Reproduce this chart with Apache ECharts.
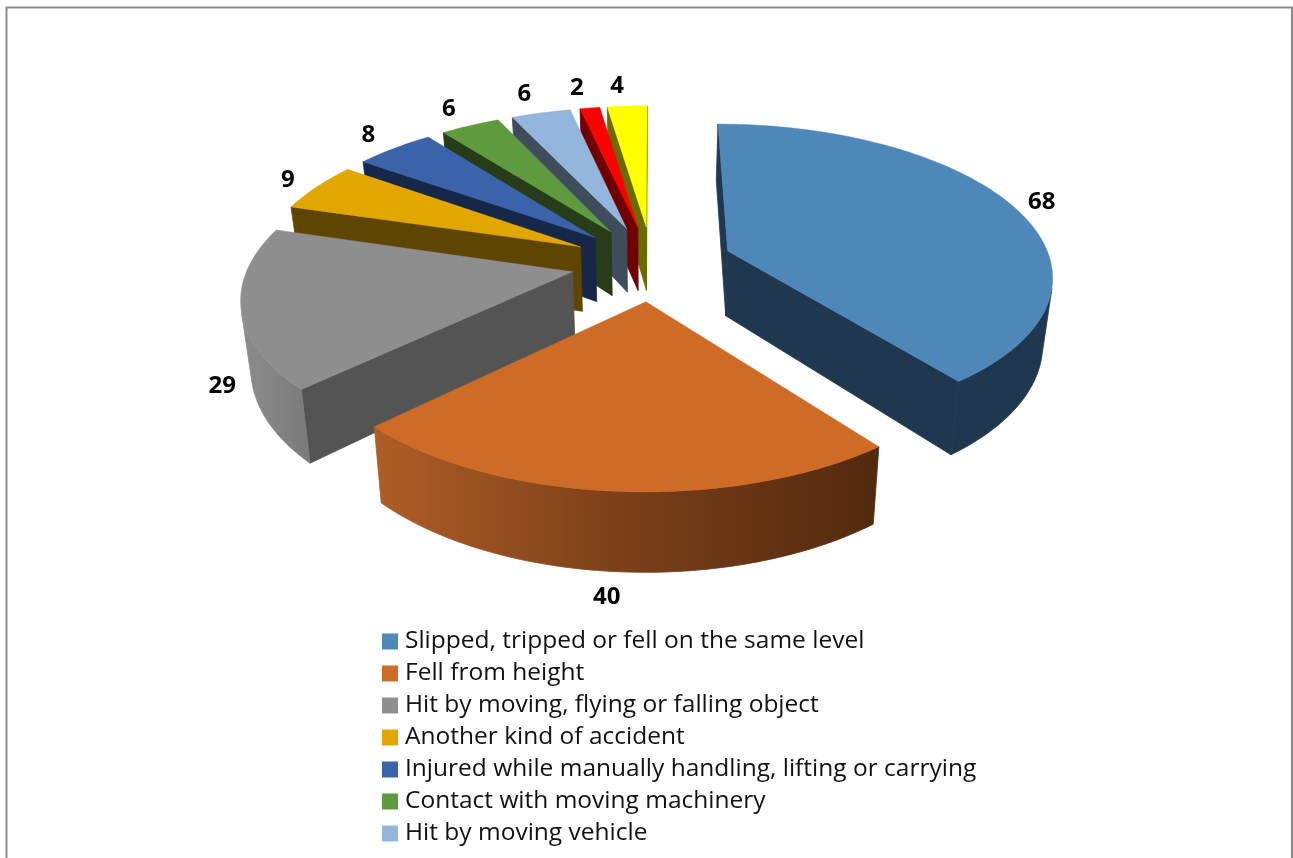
<!DOCTYPE html>
<html>
<head>
<meta charset="utf-8">
<style>html,body{margin:0;padding:0;background:#fff;overflow:hidden}#c{width:1293px;height:858px}</style>
<script src="https://cdn.jsdelivr.net/npm/echarts@6/dist/echarts.min.js"></script>
</head>
<body>
<div id="c"></div>
<script>
// Data
var categories = [
  'Slipped, tripped or fell on the same level',
  'Fell from height',
  'Hit by moving, flying or falling object',
  'Another kind of accident',
  'Injured while manually handling, lifting or carrying',
  'Contact with moving machinery',
  'Hit by moving vehicle',
  'Other (red)',
  'Other (yellow)'
];
var values = [68, 40, 29, 9, 8, 6, 6, 2, 4];
var legendCount = 7; // the last two legend rows are cut off in the reference

// Styles
var topColors  = ['#4E87BA', '#CE6B26', '#8E8E8E', '#E2A600', '#3B63AA', '#5F9A3E', '#94B6DD', '#FF0000', '#FFFF00'];
var wallColors = ['#203750', '#53290F', '#545454', '#5E4500', '#17274A', '#283C1A', '#3F4C5C', '#700000', '#6A6A00'];
var rimStops = {
  1: ['#AE5E26', '#7A3F19', '#53290F'],
  2: ['#8C8C8C', '#7A7A7A']
};

// 3D view of the pie
var view = {cx: 652, cy: 263, rx: 323.5, ry: 149.2, k: 0.1486, explode: 0.25, depth: 65.5, baseShrink: 0.975};
var total = values.reduce(function (a, b) { return a + b; }, 0);
var starts = [];
values.reduce(function (acc, v, i) { starts[i] = acc; return acc + v; }, 0);

function angle(v) { return v / total * Math.PI * 2; }
function project(u, v, bottom) {
  var s = 1 / (1 + view.k * v);
  var x = view.cx + view.rx * u * s;
  var y = view.cy - view.ry * v * s;
  if (bottom) {
    x = view.cx + (x - view.cx) * view.baseShrink;
    y += view.depth * s;
  }
  return [x, y];
}
function area(p) {
  var a = 0;
  for (var i = 0; i < p.length; i++) {
    var q = p[(i + 1) % p.length];
    a += p[i][0] * q[1] - q[0] * p[i][1];
  }
  return a / 2;
}
function poly(points, fill, seam) {
  return {type: 'polygon', shape: {points: points}, style: {fill: fill, stroke: fill, lineWidth: seam}, silent: true};
}

function sliceItem(i, value) {
  var t0 = angle(starts[i]);
  var t1 = t0 + angle(value);
  var mid = (t0 + t1) / 2;
  var ou = view.explode * Math.sin(mid), ov = view.explode * Math.cos(mid);
  var n = Math.max(6, Math.round((t1 - t0) / 0.02));
  var rim = [];
  for (var j = 0; j <= n; j++) {
    var t = t0 + (t1 - t0) * j / n;
    rim.push([ou + Math.sin(t), ov + Math.cos(t)]);
  }
  var apex = [ou, ov];
  var children = [];
  function wall(a, b) {
    return [project(a[0], a[1]), project(b[0], b[1]), project(b[0], b[1], true), project(a[0], a[1], true)];
  }
  // flat cut walls, kept only when they face the viewer
  [[apex, rim[0]], [rim[n], apex]].forEach(function (e) {
    var q = wall(e[0], e[1]);
    if (area(q) < 0) children.push(poly(q, wallColors[i], 0.8));
  });
  // curved outer wall: the part of the rim that faces the viewer
  var up = [], down = [];
  for (j = 0; j < n; j++) {
    if (area(wall(rim[j], rim[j + 1])) < 0) {
      if (!up.length) { up.push(project(rim[j][0], rim[j][1])); down.push(project(rim[j][0], rim[j][1], true)); }
      up.push(project(rim[j + 1][0], rim[j + 1][1]));
      down.push(project(rim[j + 1][0], rim[j + 1][1], true));
    }
  }
  if (up.length) {
    var fill = wallColors[i];
    if (rimStops[i]) {
      fill = {type: 'linear', x: 0, y: 0, x2: 1, y2: 0, colorStops: rimStops[i].map(function (c, m, arr) {
        return {offset: m / (arr.length - 1), color: c};
      })};
    }
    children.push(poly(up.concat(down.reverse()), fill, 0.8));
  }
  // top face
  var top = [project(apex[0], apex[1])].concat(rim.map(function (p) { return project(p[0], p[1]); }));
  children.push(poly(top, topColors[i], 0.4));
  // value label just outside the rim; front slices measure from the base edge
  var sm = Math.sin(mid), cm = Math.cos(mid);
  var lp = project(ou + sm, ov + cm, cm < 0);
  var lx = lp[0] + (sm > 0 ? 33 : 28) * sm - 8 * Math.abs(cm);
  var ly = lp[1] - 23 * cm + 3;
  children.push({
    type: 'text', silent: true,
    style: {
      text: String(value), x: lx, y: ly, align: 'center', verticalAlign: 'middle',
      font: 'bold 24px "Open Sans"', fill: '#000'
    }
  });
  return {type: 'group', children: children};
}

var order = values.map(function (v, i) {
  var mid = angle(starts[i] + v / 2);
  return {i: i, depth: Math.cos(mid)};
}).sort(function (a, b) { return b.depth - a.depth; });
var rank = [];
order.forEach(function (o, r) { rank[o.i] = r; });

var chart = echarts.init(document.getElementById('c'), null, {renderer: 'canvas'});
chart.setOption({
  animation: false,
  backgroundColor: '#fff',
  graphic: [{
    type: 'rect', silent: true,
    shape: {x: 6.5, y: 7.5, width: 1285.5, height: 1000},
    style: {fill: 'none', stroke: '#8C8C8C', lineWidth: 2}
  }],
  legend: {
    orient: 'vertical', left: 377, top: 624, height: 228,
    data: categories.slice(0, legendCount),
    icon: 'rect', itemWidth: 16, itemHeight: 16, itemGap: 7,
    selectedMode: false,
    textStyle: {fontFamily: 'Open Sans', fontSize: 24.5, color: '#111', padding: [0, 0, 0, 2]}
  },
  series: values.map(function (v, i) {
    return {
      type: 'custom', name: categories[i], coordinateSystem: 'none',
      z: 2 + rank[i], silent: true, clip: false,
      itemStyle: {color: topColors[i]},
      data: [[v]],
      renderItem: function (params, api) { return sliceItem(i, api.value(0)); }
    };
  })
});
</script>
</body>
</html>
